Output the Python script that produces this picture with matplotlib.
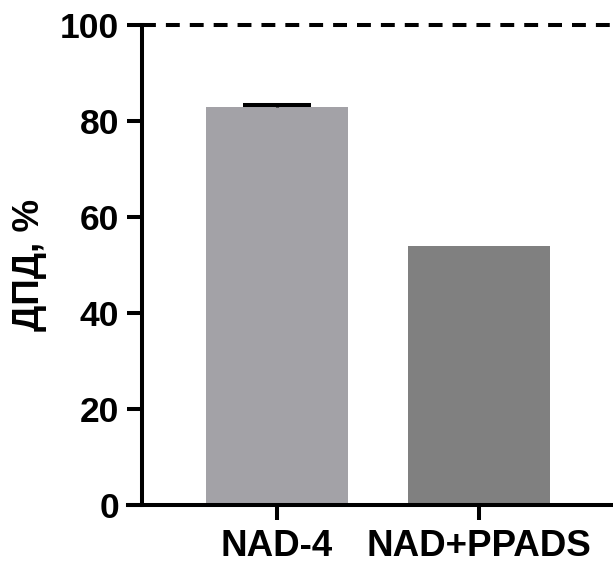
import matplotlib
matplotlib.use("Agg")
import matplotlib.pyplot as plt

plt.rcParams['font.family'] = ['Liberation Sans', 'DejaVu Sans']
plt.rcParams['font.weight'] = 'bold'
plt.rcParams['lines.scale_dashes'] = False

# data
groups = ['NAD-4', 'NAD+PPADS']
values = [82.9, 54.0]
err_up = [0.35, 0.0]
colors = ['#a3a2a7', '#808080']
yticks = [0, 20, 40, 60, 80, 100]
ref_level = 100

fig = plt.figure(figsize=(6.13, 5.66), dpi=100)
ax = fig.add_axes([142/613, 61/566, 1 - 142/613, 480/566])

x = list(range(len(groups)))
ax.bar(x, values, width=0.70, color=colors, zorder=2)
eb = ax.errorbar(x[0], values[0], yerr=[[0.0], [err_up[0]]], fmt='none', ecolor='black',
                 elinewidth=2.2, capsize=24.5, capthick=2.9, zorder=3)
eb[1][0].set_visible(False)  # GraphPad style: only the upper cap
ax.axhline(ref_level, color='black', linewidth=2.9, dashes=(10, 7.2), zorder=1, clip_on=False)

ax.set_xlim(-0.668, 1.663)
ax.set_ylim(0, 100)
ax.set_xticks(x)
ax.set_xticklabels(groups)
ax.set_yticks(yticks)
ax.set_ylabel('ДПД, %', fontsize=26.5, fontweight='bold', labelpad=9)

for side in ['top', 'right']:
    ax.spines[side].set_visible(False)
for side in ['left', 'bottom']:
    ax.spines[side].set_linewidth(2.9)
ax.spines['bottom'].set_bounds(-0.668 - 14/202, 1.663)
ax.tick_params(axis='both', width=2.9, length=10.5, direction='out')
ax.tick_params(axis='y', pad=6, labelsize=25.5)
ax.tick_params(axis='x', pad=7, labelsize=26.5)
for lbl in ax.get_xticklabels() + ax.get_yticklabels():
    lbl.set_fontweight('bold')

fig.savefig('out.png', dpi=100)
